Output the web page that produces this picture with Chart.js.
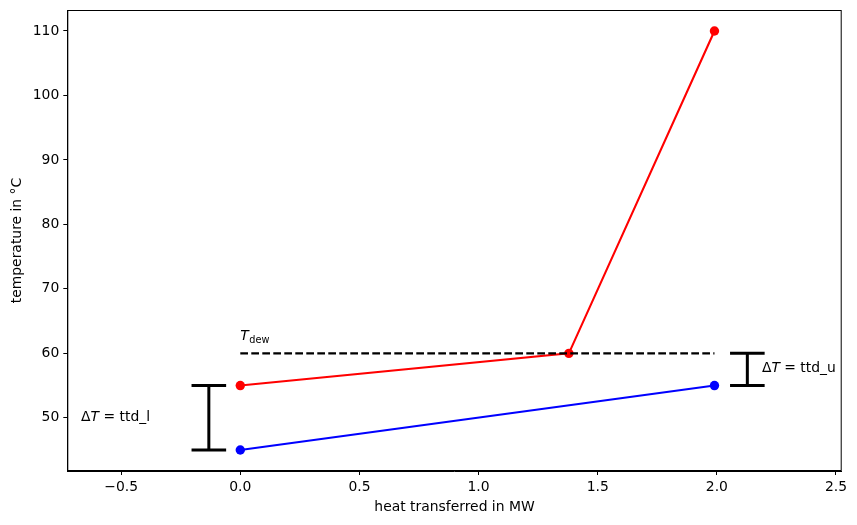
<!DOCTYPE html>
<html>
<head>
<meta charset="utf-8">
<script src="https://cdn.jsdelivr.net/npm/chart.js@4/dist/chart.umd.min.js"></script>
<style>
  html, body { margin:0; padding:0; background:#fff; }
  #wrap { width:857px; height:525px; }
</style>
</head>
<body>
<div id="wrap"><canvas id="c" width="857" height="525"></canvas></div>
<script>
// hot stream (red) and cold stream (blue), heat in MW vs temperature in °C
const hotX = [0, 1.379, 1.99];
const hotT = [55, 60, 110];
const coldX = [0, 1.99];
const coldT = [45, 55];
const dewX = [0, 1.99];
const dewT = [60, 60];

// terminal temperature differences drawn as error-bar style brackets
const ttdLowerX = [-0.132, -0.132];
const ttdLowerT = [45, 55];
const ttdUpperX = [2.128, 2.128];
const ttdUpperT = [55, 60];

// annotation anchors (data coords)
const labels = [
  { x: -0.668, y: 50, parts: [['Δ', ''], ['T', 'italic'], [' = ttd_l', '']] },
  { x: 2.189, y: 57.7, parts: [['Δ', ''], ['T', 'italic'], [' = ttd_u', '']] }
];
const dewLabel = { x: 0, y: 62 };

const FONT = '"DejaVu Sans", sans-serif';
const FS = 13.9;

function pts(xs, ys){ return xs.map((x, i) => ({ x, y: ys[i] })); }

const annotate = {
  id: 'annotate',
  afterDatasetsDraw(chart){
    const { ctx, scales: { x, y }, chartArea: a } = chart;
    ctx.save();
    // frame on top and right like matplotlib spines
    ctx.strokeStyle = '#000'; ctx.lineWidth = 1;
    ctx.strokeRect(a.left + 0.5, a.top + 0.5, a.right - a.left - 1, a.bottom - a.top - 1);

    ctx.fillStyle = '#000';
    ctx.textBaseline = 'middle';
    labels.forEach(l => {
      let px = x.getPixelForValue(l.x);
      const py = y.getPixelForValue(l.y);
      l.parts.forEach(([txt, style]) => {
        ctx.font = `${style} ${FS}px ${FONT}`;
        ctx.fillText(txt, px, py);
        px += ctx.measureText(txt).width;
      });
    });

    // T_dew with subscript
    ctx.textBaseline = 'alphabetic';
    let px = x.getPixelForValue(dewLabel.x);
    const py = y.getPixelForValue(dewLabel.y);
    ctx.font = `italic ${FS}px ${FONT}`;
    ctx.fillText('T', px, py);
    px += ctx.measureText('T').width + 0.5;
    ctx.font = `${FS * 0.7}px ${FONT}`;
    ctx.fillText('dew', px, py + 3);
    ctx.restore();
  }
};

new Chart(document.getElementById('c'), {
  type: 'scatter',
  data: {
    datasets: [
      { data: pts(dewX, dewT), showLine: true, borderColor: '#000', borderWidth: 2.1,
        borderDash: [7.7, 3.3], pointRadius: 0 },
      { data: pts(hotX, hotT), showLine: true, borderColor: '#ff0000', backgroundColor: '#ff0000',
        borderWidth: 2.1, pointRadius: 4.7, pointBorderWidth: 0 },
      { data: pts(coldX, coldT), showLine: true, borderColor: '#0000ff', backgroundColor: '#0000ff',
        borderWidth: 2.1, pointRadius: 4.7, pointBorderWidth: 0 },
      { data: pts(ttdLowerX, ttdLowerT), showLine: true, borderColor: '#000', borderWidth: 3,
        pointStyle: 'line', pointRadius: 17.3, pointBorderColor: '#000', pointBorderWidth: 3 },
      { data: pts(ttdUpperX, ttdUpperT), showLine: true, borderColor: '#000', borderWidth: 3,
        pointStyle: 'line', pointRadius: 17.3, pointBorderColor: '#000', pointBorderWidth: 3 }
    ]
  },
  options: {
    responsive: false,
    animation: false,
    layout: { autoPadding: false, padding: { top: 10, right: 15.3, left: 0, bottom: 0 } },
    plugins: { legend: { display: false }, tooltip: { enabled: false } },
    scales: {
      x: {
        type: 'linear', min: -0.726, max: 2.524,
        afterFit: s => { s.height = 54; s.paddingLeft = 0; s.paddingRight = 0; },
        grid: { display: true, drawOnChartArea: false, drawTicks: true, tickLength: 4, color: '#000' },
        border: { display: true, color: '#000', width: 1 },
        ticks: { stepSize: 0.5, includeBounds: false, color: '#000', padding: 4,
                 font: { family: FONT, size: FS }, maxRotation: 0,
                 callback: v => (v < 0 ? '\u2212' : '') + Math.abs(v).toFixed(1) },
        title: { display: true, text: 'heat transferred in MW', color: '#000',
                 font: { family: FONT, size: FS }, padding: { top: 2, bottom: 9 } }
      },
      y: {
        type: 'linear', min: 41.75, max: 113.25,
        afterFit: s => { s.width = 67.3; s.paddingTop = 0; s.paddingBottom = 0; },
        grid: { display: true, drawOnChartArea: false, drawTicks: true, tickLength: 4, color: '#000' },
        border: { display: true, color: '#000', width: 1 },
        ticks: { stepSize: 10, includeBounds: false, color: '#000', padding: 4,
                 font: { family: FONT, size: FS } },
        title: { display: true, text: 'temperature in °C', color: '#000',
                 font: { family: FONT, size: FS }, padding: { top: 9, bottom: 0 } }
      }
    }
  },
  plugins: [annotate]
});
</script>
</body>
</html>
